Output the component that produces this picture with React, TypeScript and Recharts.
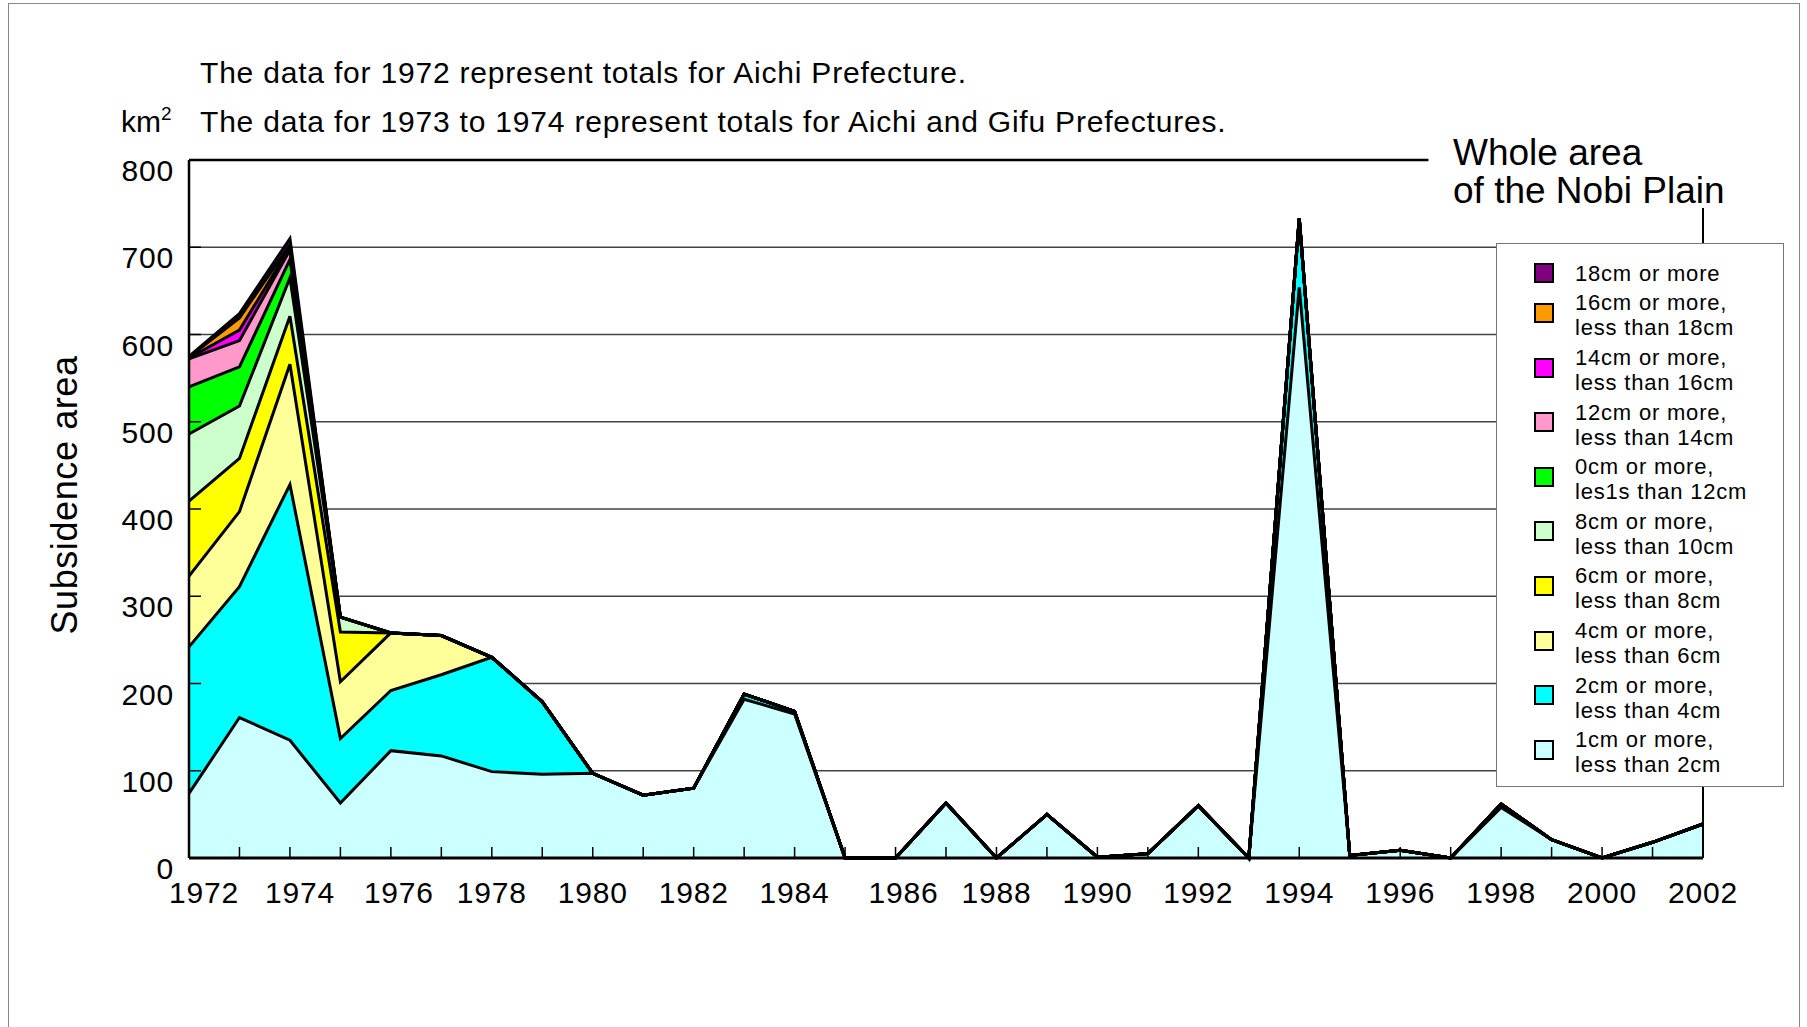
import React from 'react'
import {
  AreaChart,
  Area,
  XAxis,
  YAxis,
  CartesianGrid,
  ReferenceLine,
  Legend,
} from 'recharts'

const FONT = '"Liberation Sans", Arial, Helvetica, sans-serif'

// survey years
const years = [
  1972, 1973, 1974, 1975, 1976, 1977, 1978, 1979, 1980, 1981, 1982, 1983, 1984, 1985, 1986, 1987,
  1988, 1989, 1990, 1991, 1992, 1993, 1994, 1995, 1996, 1997, 1998, 1999, 2000, 2001, 2002,
]
const labelYears = [
  1972, 1974, 1976, 1978, 1980, 1982, 1984, 1986, 1988, 1990, 1992, 1994, 1996, 1998, 2000, 2002,
]
const yTicks = [0, 100, 200, 300, 400, 500, 600, 700, 800]
const gridValues = [100, 200, 300, 400, 500, 600, 700]

// subsidence area (km2) per band, 1972..2002
const cm1 = [74, 161, 135, 63, 123, 117, 99, 96, 97, 72, 80, 182, 165, 0, 0, 63, 0, 50, 1, 5, 60, 0, 654, 3, 9, 0, 58, 21, 0, 18, 39]
const cm2 = [168, 150, 293, 74, 69, 93, 131, 83, 0, 0, 0, 6, 3, 0, 0, 0, 0, 0, 0, 0, 0, 0, 79, 0, 0, 0, 4, 0, 0, 0, 0]
const cm4 = [81, 86, 138, 65, 66, 45, 0, 0, 0, 0, 0, 0, 0, 0, 0, 0, 0, 0, 0, 0, 0, 0, 0, 0, 0, 0, 0, 0, 0, 0, 0]
const cm6 = [86, 61, 55, 57, 0, 0, 0, 0, 0, 0, 0, 0, 0, 0, 0, 0, 0, 0, 0, 0, 0, 0, 0, 0, 0, 0, 0, 0, 0, 0, 0]
const cm8 = [77, 60, 44, 17, 0, 0, 0, 0, 0, 0, 0, 0, 0, 0, 0, 0, 0, 0, 0, 0, 0, 0, 0, 0, 0, 0, 0, 0, 0, 0, 0]
const cm10 = [54, 45, 21, 0, 0, 0, 0, 0, 0, 0, 0, 0, 0, 0, 0, 0, 0, 0, 0, 0, 0, 0, 0, 0, 0, 0, 0, 0, 0, 0, 0]
const cm12 = [32, 30, 11, 0, 0, 0, 0, 0, 0, 0, 0, 0, 0, 0, 0, 0, 0, 0, 0, 0, 0, 0, 0, 0, 0, 0, 0, 0, 0, 0, 0]
const cm14 = [1, 12, 3, 0, 0, 0, 0, 0, 0, 0, 0, 0, 0, 0, 0, 0, 0, 0, 0, 0, 0, 0, 0, 0, 0, 0, 0, 0, 0, 0, 0]
const cm16 = [1, 14, 3, 0, 0, 0, 0, 0, 0, 0, 0, 0, 0, 0, 0, 0, 0, 0, 0, 0, 0, 0, 0, 0, 0, 0, 0, 0, 0, 0, 0]
const cm18 = [1, 5, 7, 0, 0, 0, 0, 0, 0, 0, 0, 0, 0, 0, 0, 0, 0, 0, 0, 0, 0, 0, 0, 0, 0, 0, 0, 0, 0, 0, 0]

// bottom of the stack first
const seriesKeys = ['cm1', 'cm2', 'cm4', 'cm6', 'cm8', 'cm10', 'cm12', 'cm14', 'cm16', 'cm18']
const seriesColors = ['#CCFFFF', '#00FFFF', '#FFFF99', '#FFFF00', '#CCFFCC', '#00FF00', '#FF99CC', '#FF00FF', '#FF9900', '#800080']
const seriesLabels = [
  ['1cm or more,', 'less than 2cm'],
  ['2cm or more,', 'less than 4cm'],
  ['4cm or more,', 'less than 6cm'],
  ['6cm or more,', 'less than 8cm'],
  ['8cm or more,', 'less than 10cm'],
  ['0cm or more,', 'les1s than 12cm'],
  ['12cm or more,', 'less than 14cm'],
  ['14cm or more,', 'less than 16cm'],
  ['16cm or more,', 'less than 18cm'],
  ['18cm or more'],
]

// "Whole area of the Nobi Plain" bracket
const bracketValue = 800
const bracketEndYear = 1996.56
const bracketRightTop = 745

const data = years.map((year, i) => ({
  year,
  cm1: cm1[i],
  cm2: cm2[i],
  cm4: cm4[i],
  cm6: cm6[i],
  cm8: cm8[i],
  cm10: cm10[i],
  cm12: cm12[i],
  cm14: cm14[i],
  cm16: cm16[i],
  cm18: cm18[i],
}))

const labelNudge: Record<number, number> = { 1972: 15, 1974: 10, 1976: 8, 1986: 8 }

function XTick(props: any) {
  const { x, y, payload } = props
  const year = payload.value
  return (
    <g>
      <line x1={x} y1={y} x2={x} y2={y - 11} stroke="#000" strokeWidth={1.5} />
      {labelYears.includes(year) && (
        <text
          x={x + (labelNudge[year] || 0)}
          y={y + 45}
          textAnchor="middle"
          fontSize={30}
          fontFamily={FONT}
          letterSpacing={0.8}
          fill="#000"
        >
          {year}
        </text>
      )}
    </g>
  )
}

function YTick(props: any) {
  const { x, y, payload } = props
  return (
    <g>
      {payload.value < 800 && <line x1={x} y1={y} x2={x + 12} y2={y} stroke="#000" strokeWidth={1.5} />}
      <text x={x - 15} y={y + 21} textAnchor="end" fontSize={30} fontFamily={FONT} letterSpacing={0.8} fill="#000">
        {payload.value}
      </text>
    </g>
  )
}

function LegendBox() {
  const top = 243
  const order = [...seriesKeys.keys()].reverse()
  return (
    <div
      style={{
        position: 'relative',
        width: 288,
        height: 544,
        background: '#fff',
        border: '1.5px solid #777',
        boxSizing: 'border-box',
        fontFamily: FONT,
      }}
    >
      {order.map((s, i) => {
        const lines = seriesLabels[s]
        const center = i === 0 ? 272 : 301.9 + 54.6 * (i - 1)
        const swatchMid = lines.length > 1 ? center + 10 : center
        return (
          <React.Fragment key={seriesKeys[s]}>
            <div
              style={{
                position: 'absolute',
                left: 37,
                top: swatchMid - top - 10,
                width: 20,
                height: 20,
                background: seriesColors[s],
                border: '2px solid #000',
                boxSizing: 'border-box',
              }}
            />
            <div
              style={{
                position: 'absolute',
                left: 78,
                top: center - top - 12.5,
                fontSize: 22,
                lineHeight: '25px',
                letterSpacing: 0.8,
                whiteSpace: 'pre',
                color: '#000',
              }}
            >
              {lines.join('\n')}
            </div>
          </React.Fragment>
        )
      })}
    </div>
  )
}

export default function App() {
  return (
    <div
      style={{
        position: 'absolute',
        left: 0,
        top: 0,
        width: 1807,
        height: 1027,
        overflow: 'hidden',
        background: '#fff',
        fontFamily: FONT,
      }}
    >
      <div
        style={{
          position: 'absolute',
          left: 8,
          top: 3,
          width: 1792,
          height: 1200,
          border: '1.5px solid #888',
          boxSizing: 'border-box',
        }}
      />
      <svg width={1807} height={1027} style={{ position: 'absolute', left: 0, top: 0 }} fontFamily={FONT}>
        <text x={200} y={83} fontSize={30} letterSpacing={0.8} fill="#000">
          The data for 1972 represent totals for Aichi Prefecture.
        </text>
        <text x={200} y={132} fontSize={30} letterSpacing={0.8} fill="#000">
          The data for 1973 to 1974 represent totals for Aichi and Gifu Prefectures.
        </text>
        <text x={121} y={132} fontSize={30} fill="#000">
          km
          <tspan fontSize={19} dy={-12}>
            2
          </tspan>
        </text>
        <text
          x={77}
          y={495}
          fontSize={36}
          letterSpacing={0.6}
          textAnchor="middle"
          transform="rotate(-90 77 495)"
          fill="#000"
        >
          Subsidence area
        </text>
        <text x={1453} y={165} fontSize={37} fill="#000">
          Whole area
        </text>
        <text x={1453} y={203} fontSize={37} fill="#000">
          of the Nobi Plain
        </text>
      </svg>
      <div style={{ position: 'absolute', left: 0, top: 0 }}>
        <AreaChart width={1807} height={1027} data={data} margin={{ top: 160, right: 104, left: 109, bottom: 109 }}>
          <CartesianGrid horizontal vertical={false} horizontalValues={gridValues} stroke="#444" strokeWidth={1.3} />
          <XAxis
            dataKey="year"
            type="number"
            domain={[1972, 2002]}
            ticks={years}
            interval={0}
            height={60}
            tickSize={0}
            tickMargin={0}
            tickLine={false}
            axisLine={{ stroke: '#000', strokeWidth: 3 }}
            tick={<XTick />}
          />
          <YAxis
            type="number"
            domain={[0, 800]}
            ticks={yTicks}
            interval={0}
            width={80}
            tickSize={0}
            tickMargin={0}
            tickLine={false}
            axisLine={{ stroke: '#000', strokeWidth: 2.5 }}
            tick={<YTick />}
          />
          {seriesKeys.map((key, i) => (
            <Area
              key={key}
              type="linear"
              dataKey={key}
              stackId="fill"
              fill={seriesColors[i]}
              fillOpacity={1}
              stroke="none"
              dot={false}
              activeDot={false}
              isAnimationActive={false}
            />
          ))}
          {seriesKeys.map((key) => (
            <Area
              key={key + '-edge'}
              type="linear"
              dataKey={key}
              stackId="edge"
              fill="none"
              stroke="#000"
              strokeWidth={3}
              dot={false}
              activeDot={false}
              legendType="none"
              isAnimationActive={false}
            />
          ))}
          <ReferenceLine
            segment={[
              { x: 1972, y: bracketValue },
              { x: bracketEndYear, y: bracketValue },
            ]}
            stroke="#000"
            strokeWidth={2.5}
            ifOverflow="visible"
          />
          <ReferenceLine
            segment={[
              { x: 2002, y: 0 },
              { x: 2002, y: bracketRightTop },
            ]}
            stroke="#000"
            strokeWidth={2}
            ifOverflow="visible"
          />
          <Legend
            layout="vertical"
            align="center"
            verticalAlign="middle"
            content={() => <LegendBox />}
            wrapperStyle={{ left: 1496, top: 243, width: 288, height: 544 }}
          />
        </AreaChart>
      </div>
    </div>
  )
}
